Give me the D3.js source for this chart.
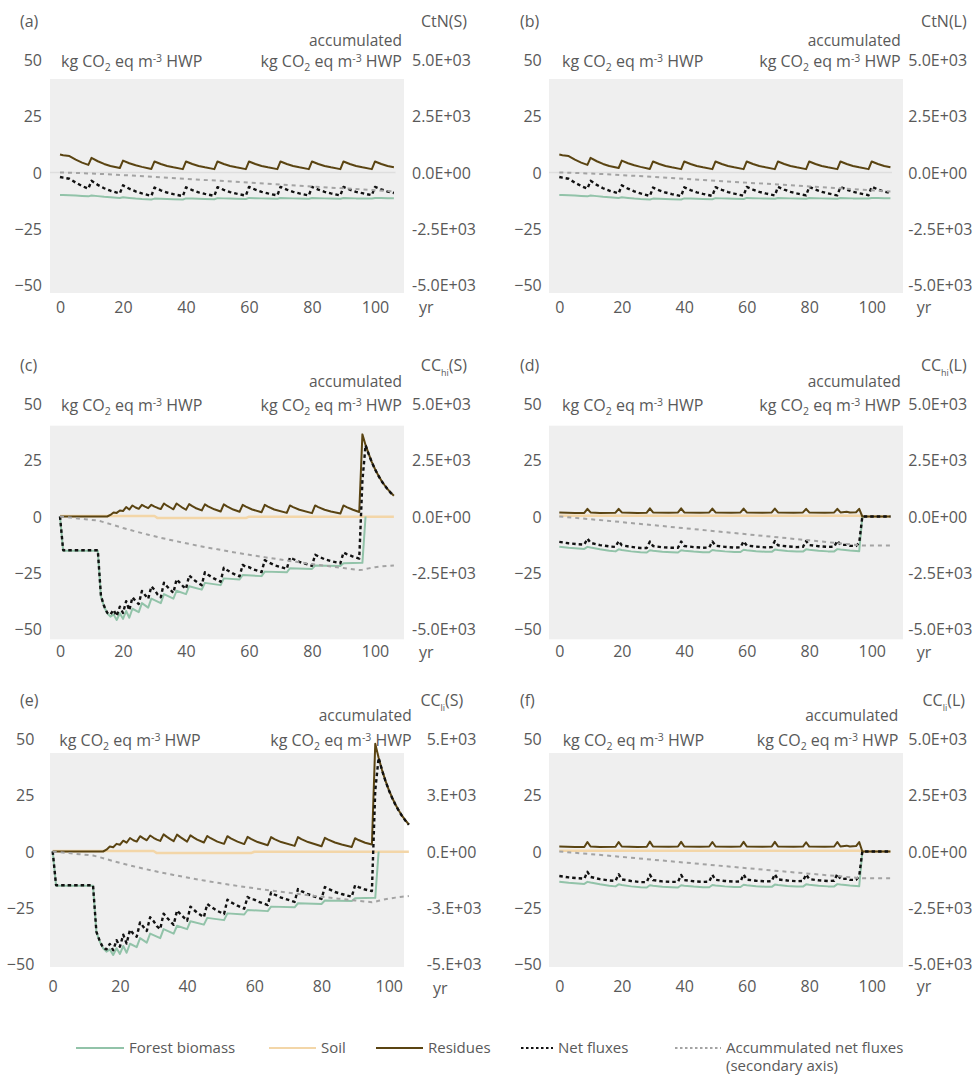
<!DOCTYPE html>
<html><head><meta charset="utf-8">
<script src="https://cdn.jsdelivr.net/npm/d3@7"></script>
<style>
body{margin:0;background:#fff;}
svg text{font-family:"Open Sans",Roboto,sans-serif;fill:#595959;}
</style>
</head><body>
<svg id="chart" width="975" height="1076"></svg>
<script>
// ---------------- DATA (year, value) ----------------
const leftTicks = [50, 25, 0, -25, -50];
const rightTicks = [5000, 2500, 0, -2500, -5000];
const rightTickLabels = ["5.0E+03", "2.5E+03", "0.0E+00", "-2.5E+03", "-5.0E+03"];
const rightTickLabelsE = ["5.E+03", "3.E+03", "0.E+00", "-3.E+03", "-5.E+03"];
const xTicks = [0, 20, 40, 60, 80, 100];
const seriesNames = ["Forest biomass", "Soil", "Residues", "Net fluxes", "Accummulated net fluxes"];

// CtN (S) and (L) look identical
const ctnResidues = [[0,8.0],[1,7.7],[3,7.3],[5,5.7],[7,4.4],[9,3.4],[10,6.5],[12,5.0],[14,3.8],[16,2.9],[19,2.0],[20,5.3],[22,4.1],[24,3.2],[26,2.5],[29,1.6],[30,4.9],[32,3.8],[34,2.9],[36,2.3],[39,1.5],[40,4.9],[42,3.8],[44,2.9],[46,2.3],[49,1.5],[50,4.9],[52,3.8],[54,2.9],[56,2.3],[59,1.5],[60,4.9],[62,3.8],[64,2.9],[66,2.3],[69,1.5],[70,4.9],[72,3.8],[74,2.9],[76,2.3],[79,1.5],[80,4.9],[82,3.8],[84,2.9],[86,2.3],[89,1.5],[90,4.9],[92,3.8],[94,2.9],[96,2.3],[99,1.5],[100,4.9],[102,3.8],[104,2.9],[106,2.3]];
const ctnBiomass = [[0,-10.0],[1,-10.0],[3,-10.1],[5,-10.2],[7,-10.4],[9,-10.6],[10,-10.2],[12,-10.5],[14,-10.8],[16,-11.0],[19,-11.3],[20,-11.0],[22,-11.3],[24,-11.6],[26,-11.8],[29,-12.0],[30,-11.6],[32,-11.7],[34,-11.8],[36,-11.9],[39,-12.0],[40,-11.5],[42,-11.6],[44,-11.7],[46,-11.8],[49,-11.9],[50,-11.4],[52,-11.5],[54,-11.6],[56,-11.7],[59,-11.8],[60,-11.3],[62,-11.4],[64,-11.5],[66,-11.6],[69,-11.7],[70,-11.3],[72,-11.4],[74,-11.5],[76,-11.6],[79,-11.7],[80,-11.3],[82,-11.4],[84,-11.5],[86,-11.6],[89,-11.7],[90,-11.3],[92,-11.4],[94,-11.5],[96,-11.5],[99,-11.6],[100,-11.3],[102,-11.3],[104,-11.4],[106,-11.4]];
const ctnNet = [[0,-2.0],[1,-2.3],[3,-2.8],[5,-4.5],[7,-6.0],[9,-7.2],[10,-3.7],[12,-5.5],[14,-7.0],[16,-8.1],[19,-9.3],[20,-5.7],[22,-7.2],[24,-8.4],[26,-9.3],[29,-10.4],[30,-6.7],[32,-7.9],[34,-8.9],[36,-9.6],[39,-10.5],[40,-6.6],[42,-7.8],[44,-8.8],[46,-9.5],[49,-10.4],[50,-6.5],[52,-7.7],[54,-8.7],[56,-9.4],[59,-10.3],[60,-6.4],[62,-7.6],[64,-8.6],[66,-9.3],[69,-10.2],[70,-6.4],[72,-7.6],[74,-8.6],[76,-9.3],[79,-10.2],[80,-6.4],[82,-7.6],[84,-8.6],[86,-9.3],[89,-10.2],[90,-6.4],[92,-7.6],[94,-8.6],[96,-9.2],[99,-10.1],[100,-6.4],[102,-7.5],[104,-8.5],[106,-9.1]];
const ctnAccum = [[0,0],[5,-18],[10,-45],[15,-78],[20,-115],[25,-155],[30,-195],[40,-280],[50,-365],[60,-450],[70,-535],[80,-620],[90,-705],[100,-790],[106,-840]];

// CC hi (S)
const ccHiSResidues = [[0,0],[15,0],[16,0.7],[17,1.8],[18,1.6],[19,2.7],[20,2.4],[21,4.2],[22,3.1],[23,4.9],[24,4.0],[25,3.4],[26,5.2],[27,4.4],[28,3.7],[29,5.2],[30,4.4],[31,3.8],[32,3.3],[33,5.8],[34,4.8],[35,4.0],[36,3.2],[37,5.8],[38,4.8],[39,3.8],[40,3.0],[41,5.5],[42,4.6],[43,3.8],[45,2.7],[46,5.4],[47,4.5],[49,3.2],[51,2.2],[52,5.4],[53,4.5],[55,3.1],[57,2.1],[58,5.2],[59,4.4],[61,3.1],[64,1.9],[65,5.2],[66,4.4],[68,3.1],[72,1.6],[73,4.9],[74,4.2],[76,3.0],[80,1.5],[81,4.9],[82,4.2],[84,3.0],[86,2.2],[89,1.3],[90,4.9],[91,4.2],[93,3.0],[95,2.0],[96,36.5],[97,31.8],[98,27.8],[99,24.2],[100,21.1],[101,18.4],[102,16.0],[103,14.0],[104,12.2],[105,10.6],[106,9.2]];
const ccHiSBiomass = [[0,0],[1,-15.2],[12,-15.2],[13,-35.5],[14,-40],[15,-43],[16,-44.5],[17,-43.5],[18,-46],[19,-43],[20,-45.5],[21,-42],[22,-45],[23,-41],[25,-42.5],[26,-38.5],[28,-40.5],[29,-36.5],[32,-38.5],[33,-34.5],[36,-36.5],[37,-33],[40,-34.5],[41,-31],[45,-32.5],[46,-29.5],[51,-30.5],[52,-27.5],[57,-28],[58,-26],[64,-26.5],[65,-24.5],[72,-24.8],[73,-23],[80,-23.3],[81,-21.8],[89,-22],[90,-20.8],[96,-20.6],[97,0]];
const ccHiSSoil = [[0,0.2],[30,0.2],[31,-0.7],[59,-0.7],[60,-0.1],[106,-0.1]];
const ccHiSNet = [[0,0],[1,-15.0],[12,-15.0],[13,-35.3],[14,-39.8],[15,-42.8],[16,-43.6],[17,-41.5],[18,-44.2],[19,-40.1],[20,-42.9],[21,-37.6],[22,-41.7],[23,-35.9],[24,-37.6],[25,-38.9],[26,-33.1],[27,-34.9],[28,-36.6],[29,-31.1],[30,-32.6],[31,-34.7],[32,-35.9],[33,-29.4],[34,-31.1],[35,-32.5],[36,-34.0],[37,-27.9],[38,-29.4],[39,-30.9],[40,-32.2],[41,-26.2],[42,-27.5],[43,-28.7],[45,-30.5],[46,-24.8],[47,-25.9],[49,-27.6],[51,-29.0],[52,-22.8],[53,-23.8],[55,-25.4],[57,-26.6],[58,-21.5],[59,-22.4],[60,-22.5],[61,-23.3],[64,-24.7],[65,-19.4],[66,-20.2],[68,-21.6],[72,-23.3],[73,-18.2],[74,-18.9],[76,-20.2],[80,-21.9],[81,-17.0],[82,-17.7],[84,-19.0],[86,-19.8],[89,-20.8],[90,-16.0],[91,-16.7],[93,-17.8],[95,-18.7],[96,15.8],[97,31.7],[98,27.7],[99,24.1],[100,21.0],[101,18.3],[102,15.9],[103,13.9],[104,12.1],[105,10.5],[106,9.1]];
const ccHiSAccum = [[0,0],[4,-60],[8,-120],[12,-180],[13,-215],[14,-255],[16,-340],[18,-425],[20,-510],[24,-665],[28,-810],[32,-945],[36,-1070],[40,-1190],[45,-1330],[50,-1460],[55,-1585],[60,-1700],[65,-1810],[70,-1915],[75,-2015],[80,-2115],[85,-2205],[90,-2290],[95,-2380],[96,-2365],[97,-2335],[98,-2305],[100,-2255],[102,-2220],[104,-2195],[106,-2175]];

// CC hi (L)
const ccHiLResidues = [[0,1.8],[5,1.6],[8,1.6],[9,3.4],[10,1.8],[13,1.6],[18,1.7],[19,3.4],[20,1.8],[25,1.6],[28,1.7],[29,3.6],[30,1.8],[35,1.7],[38,1.8],[39,3.6],[40,1.8],[45,1.7],[48,1.8],[49,3.5],[50,1.8],[55,1.7],[58,1.8],[59,3.5],[60,1.8],[65,1.7],[68,1.8],[69,3.5],[70,1.8],[75,1.7],[78,1.8],[79,3.4],[80,1.8],[85,1.7],[88,1.8],[89,3.4],[90,1.8],[92,2.1],[93,1.8],[95,1.9],[96,3.4],[97,0],[106,0]];
const ccHiLBiomass = [[0,-13.4],[3,-13.9],[6,-14.2],[8,-14.4],[9,-13.5],[10,-13.8],[13,-14.6],[16,-15.2],[18,-15.5],[19,-14.6],[20,-14.9],[23,-15.5],[26,-15.9],[28,-16.0],[29,-15.0],[30,-15.2],[33,-15.7],[36,-15.9],[38,-16.0],[39,-15.0],[40,-15.2],[43,-15.6],[46,-15.9],[48,-15.9],[49,-14.9],[50,-15.1],[53,-15.5],[56,-15.8],[58,-15.8],[59,-14.8],[60,-15.0],[63,-15.4],[66,-15.7],[68,-15.7],[69,-14.7],[70,-14.9],[73,-15.3],[76,-15.6],[78,-15.6],[79,-14.6],[80,-14.8],[83,-15.2],[86,-15.5],[88,-15.5],[89,-14.5],[90,-14.7],[93,-15.1],[95,-15.3],[96,-15.4],[97,0]];
const ccHiLSoil = [[0,0.3],[96,0.3],[97,0],[106,0]];
const ccHiLNet = [[0,-11.3],[3,-11.9],[6,-12.3],[8,-12.5],[9,-9.8],[10,-11.7],[13,-12.7],[16,-13.3],[18,-13.5],[19,-10.9],[20,-12.8],[23,-13.5],[26,-14.0],[28,-14.0],[29,-11.1],[30,-13.1],[33,-13.7],[36,-13.9],[38,-13.9],[39,-11.1],[40,-13.1],[43,-13.6],[46,-13.9],[48,-13.8],[49,-11.1],[50,-13.0],[53,-13.5],[56,-13.8],[58,-13.7],[59,-11.0],[60,-12.9],[63,-13.4],[66,-13.7],[68,-13.6],[69,-10.9],[70,-12.8],[73,-13.3],[76,-13.6],[78,-13.5],[79,-10.9],[80,-12.7],[83,-13.2],[86,-13.5],[88,-13.4],[89,-10.8],[90,-12.6],[92,-12.6],[93,-13.0],[95,-13.1],[96,-11.7],[97,0],[106,0]];
const ccHiLAccum = [[0,0],[10,-120],[20,-250],[30,-385],[40,-520],[50,-655],[60,-790],[70,-925],[80,-1060],[90,-1195],[96,-1275],[97,-1285],[106,-1285]];

// CC li (S)
const ccLiSResidues = [[0,0],[15,0],[16,0.8],[17,2.2],[18,1.9],[19,3.4],[20,3.0],[21,4.8],[22,3.9],[23,6.0],[24,5.0],[25,4.4],[26,6.8],[27,5.8],[28,5.0],[29,7.1],[30,6.1],[31,5.3],[32,4.7],[33,7.6],[34,6.5],[35,5.5],[36,4.6],[37,7.5],[38,6.4],[39,5.4],[40,4.4],[41,7.2],[42,6.2],[43,5.3],[45,4.0],[46,6.9],[47,5.9],[49,4.4],[51,3.4],[52,6.8],[53,5.8],[55,4.4],[57,3.3],[58,6.5],[59,5.6],[61,4.2],[64,2.8],[65,6.4],[66,5.5],[68,4.2],[72,2.5],[73,6.4],[74,5.5],[76,4.2],[80,2.3],[81,6.1],[82,5.3],[84,4.0],[86,3.1],[89,2.0],[90,5.9],[91,5.1],[93,3.9],[95,3.1],[96,47.9],[97,41.7],[98,36.3],[99,31.6],[100,27.5],[101,24.0],[102,20.9],[103,18.2],[104,15.8],[105,13.8],[106,12.0]];
const ccLiSBiomass = [[0,0],[1,-15.2],[12,-15.2],[13,-35.8],[14,-40],[15,-43],[16,-44.5],[17,-43.5],[18,-46],[19,-43],[20,-45.5],[21,-42],[22,-45],[23,-41],[25,-42.5],[26,-38.5],[28,-40.5],[29,-36.5],[32,-38.5],[33,-34.5],[36,-36.5],[37,-33],[40,-34.5],[41,-31],[45,-32.5],[46,-29.5],[51,-30.5],[52,-27.5],[57,-28],[58,-26],[64,-26.5],[65,-24.5],[72,-24.8],[73,-23],[80,-23.3],[81,-21.8],[89,-22],[90,-20.8],[96,-20.6],[97,0]];
const ccLiSSoil = [[0,0.2],[30,0.2],[31,-0.7],[59,-0.7],[60,-0.1],[106,-0.1]];
const ccLiSNet = [[0,0],[1,-15.0],[12,-15.0],[13,-35.6],[14,-39.8],[15,-42.8],[16,-43.5],[17,-41.1],[18,-43.9],[19,-39.4],[20,-42.3],[21,-37.0],[22,-40.9],[23,-34.8],[24,-36.6],[25,-37.9],[26,-31.5],[27,-33.5],[28,-35.3],[29,-29.2],[30,-30.9],[31,-33.2],[32,-34.5],[33,-27.6],[34,-29.4],[35,-31.0],[36,-32.6],[37,-26.2],[38,-27.8],[39,-29.3],[40,-30.8],[41,-24.5],[42,-25.9],[43,-27.2],[45,-29.2],[46,-23.3],[47,-24.5],[49,-26.4],[51,-27.8],[52,-21.4],[53,-22.5],[55,-24.1],[57,-25.4],[58,-20.2],[59,-21.2],[60,-21.4],[61,-22.2],[64,-23.8],[65,-18.2],[66,-19.1],[68,-20.5],[72,-22.4],[73,-16.7],[74,-17.6],[76,-19.0],[80,-21.1],[81,-15.8],[82,-16.6],[84,-18.0],[86,-18.9],[89,-20.1],[90,-15.0],[91,-15.8],[93,-16.9],[95,-17.6],[96,27.2],[97,41.6],[98,36.2],[99,31.5],[100,27.4],[101,23.9],[102,20.8],[103,18.1],[104,15.7],[105,13.7],[106,11.9]];
const ccLiSAccum = [[0,0],[4,-60],[8,-120],[12,-180],[14,-255],[16,-340],[18,-425],[20,-505],[24,-655],[28,-795],[32,-925],[36,-1045],[40,-1155],[45,-1290],[50,-1415],[55,-1530],[60,-1635],[65,-1735],[70,-1830],[75,-1920],[80,-2010],[85,-2095],[90,-2175],[95,-2255],[96,-2230],[97,-2190],[98,-2155],[100,-2095],[102,-2050],[104,-2010],[106,-1980]];

// CC li (L)
const ccLiLResidues = [[0,2.2],[5,2.0],[8,2.0],[9,4.2],[10,2.2],[13,2.0],[18,2.1],[19,4.2],[20,2.2],[25,2.0],[28,2.1],[29,4.4],[30,2.2],[35,2.1],[38,2.2],[39,4.3],[40,2.2],[45,2.1],[48,2.2],[49,4.2],[50,2.2],[55,2.1],[58,2.2],[59,4.3],[60,2.2],[65,2.1],[68,2.2],[69,4.3],[70,2.2],[75,2.1],[78,2.2],[79,4.1],[80,2.2],[85,2.1],[88,2.2],[89,4.2],[90,2.2],[92,2.6],[93,2.2],[95,2.4],[96,4.2],[97,0],[106,0]];
const ccLiLBiomass = [[0,-13.4],[3,-13.9],[6,-14.2],[8,-14.4],[9,-13.5],[10,-13.8],[13,-14.6],[16,-15.2],[18,-15.5],[19,-14.6],[20,-14.9],[23,-15.5],[26,-15.9],[28,-16.0],[29,-15.0],[30,-15.2],[33,-15.7],[36,-15.9],[38,-16.0],[39,-15.0],[40,-15.2],[43,-15.6],[46,-15.9],[48,-15.9],[49,-14.9],[50,-15.1],[53,-15.5],[56,-15.8],[58,-15.8],[59,-14.8],[60,-15.0],[63,-15.4],[66,-15.7],[68,-15.7],[69,-14.7],[70,-14.9],[73,-15.3],[76,-15.6],[78,-15.6],[79,-14.6],[80,-14.8],[83,-15.2],[86,-15.5],[88,-15.5],[89,-14.5],[90,-14.7],[93,-15.1],[95,-15.3],[96,-15.4],[97,0]];
const ccLiLSoil = [[0,0.3],[96,0.3],[97,0],[106,0]];
const ccLiLNet = [[0,-10.9],[3,-11.5],[6,-11.9],[8,-12.1],[9,-9.0],[10,-11.3],[13,-12.3],[16,-12.9],[18,-13.1],[19,-10.1],[20,-12.4],[23,-13.1],[26,-13.6],[28,-13.6],[29,-10.3],[30,-12.7],[33,-13.3],[36,-13.5],[38,-13.5],[39,-10.4],[40,-12.7],[43,-13.2],[46,-13.5],[48,-13.4],[49,-10.4],[50,-12.6],[53,-13.1],[56,-13.4],[58,-13.3],[59,-10.2],[60,-12.5],[63,-13.0],[66,-13.3],[68,-13.2],[69,-10.1],[70,-12.4],[73,-12.9],[76,-13.2],[78,-13.1],[79,-10.2],[80,-12.3],[83,-12.8],[86,-13.1],[88,-13.0],[89,-10.0],[90,-12.2],[92,-12.1],[93,-12.6],[95,-12.6],[96,-10.9],[97,0],[106,0]];
const ccLiLAccum = [[0,0],[10,-115],[20,-240],[30,-365],[40,-490],[50,-615],[60,-740],[70,-865],[80,-985],[90,-1105],[96,-1180],[97,-1190],[106,-1190]];

// ---------------- STYLE / LAYOUT ----------------
const styles = {
  biomass: {color: "#92c3a9", width: 2, dash: null},
  soil: {color: "#f3d6a8", width: 2.5, dash: null},
  residues: {color: "#5a4412", width: 2, dash: null},
  net: {color: "#111111", width: 2.4, dash: "3.5,3"},
  accum: {color: "#a3a3a3", width: 2, dash: "4,4"}
};
const colLayout = [
  {bgL: 50, bgR: 404, x0: 60, x100: 375, leftEnd: 42, rightStart: 412, labelX: 20, titleR: 467, accR: 402, unitL: 61, yrX: 419},
  {bgL: 549, bgR: 903, x0: 559.3, x100: 871.7, leftEnd: 541.7, rightStart: 908.3, labelX: 520, titleR: 966.7, accR: 900.7, unitL: 562, yrX: 916.7}
];
const rowLayout = [
  {y50: 60, yM50: 285, bgT: 79, bgB: 293, labelCY: 21, accCY: 41, unitCY: 61, xCY: 307, yrCY: 307},
  {y50: 404, yM50: 629, bgT: 425.7, bgB: 639.3, labelCY: 365, accCY: 382, unitCY: 405.5, xCY: 651.7, yrCY: 652},
  {y50: 739, yM50: 964, bgT: 753, bgB: 967, labelCY: 700, accCY: 716, unitCY: 740.5, xCY: 986, yrCY: 986}
];

const panels = [
  {label: "(a)", title: ["CtN", "", "(S)"], col: 0, row: 0, zero: true, rl: rightTickLabels,
   s: {biomass: ctnBiomass, residues: ctnResidues, net: ctnNet, accum: ctnAccum}},
  {label: "(b)", title: ["CtN", "", "(L)"], col: 1, row: 0, zero: true, rl: rightTickLabels,
   s: {biomass: ctnBiomass, residues: ctnResidues, net: ctnNet, accum: ctnAccum}},
  {label: "(c)", title: ["CC", "hi", "(S)"], col: 0, row: 1, rl: rightTickLabels,
   s: {soil: ccHiSSoil, biomass: ccHiSBiomass, residues: ccHiSResidues, net: ccHiSNet, accum: ccHiSAccum}},
  {label: "(d)", title: ["CC", "hi", "(L)"], col: 1, row: 1, rl: rightTickLabels,
   s: {soil: ccHiLSoil, biomass: ccHiLBiomass, residues: ccHiLResidues, net: ccHiLNet, accum: ccHiLAccum}},
  {label: "(e)", title: ["CC", "li", "(S)"], col: 0, row: 2, rl: rightTickLabelsE,
   over: {x0: 52.7, x100: 388.7, leftEnd: 34.3, rightStart: 426.7, titleR: 463.3, accR: 411.7, unitL: 59.3, yrX: 433, yrCY: 988},
   s: {soil: ccLiSSoil, biomass: ccLiSBiomass, residues: ccLiSResidues, net: ccLiSNet, accum: ccLiSAccum}},
  {label: "(f)", title: ["CC", "li", "(L)"], col: 1, row: 2, rl: rightTickLabels,
   over: {titleR: 965, accR: 898.3, unitL: 562.7},
   s: {soil: ccLiLSoil, biomass: ccLiLBiomass, residues: ccLiLResidues, net: ccLiLNet, accum: ccLiLAccum}}
];

const svg = d3.select("#chart");
const FS = 16;

function unitText(g, x, y, anchor) {
  const t = g.append("text").attr("x", x).attr("y", y).attr("dy", "0.35em")
    .attr("text-anchor", anchor).style("font-size", FS + "px");
  t.append("tspan").text("kg CO");
  t.append("tspan").text("2").style("font-size", "10.5px").attr("dy", 4);
  t.append("tspan").text(" eq m").attr("dy", -4);
  t.append("tspan").text("-3").style("font-size", "10.5px").attr("dy", -5);
  t.append("tspan").text(" HWP").attr("dy", 5);
}

panels.forEach(p => {
  const L = Object.assign({}, colLayout[p.col], rowLayout[p.row], p.over || {});
  const g = svg.append("g");
  const x = d3.scaleLinear().domain([0, 100]).range([L.x0, L.x100]);
  const y = d3.scaleLinear().domain([-50, 50]).range([L.yM50, L.y50]);
  const yR = d3.scaleLinear().domain([-5000, 5000]).range([L.yM50, L.y50]);

  g.append("rect").attr("x", L.bgL).attr("y", L.bgT)
    .attr("width", L.bgR - L.bgL).attr("height", L.bgB - L.bgT).attr("fill", "#efefef");

  // axes
  const ax1 = g.append("g").attr("transform", `translate(${L.leftEnd},0)`)
    .call(d3.axisLeft(y).tickValues(leftTicks).tickSize(0).tickPadding(0));
  const ax2 = g.append("g").attr("transform", `translate(${L.rightStart},0)`)
    .call(d3.axisRight(yR).tickValues(rightTicks).tickSize(0).tickPadding(0)
      .tickFormat((d, i) => p.rl[i]));
  const ax3 = g.append("g").attr("transform", `translate(0,${L.xCY})`)
    .call(d3.axisBottom(x).tickValues(xTicks).tickSize(0).tickPadding(0));
  [ax1, ax2, ax3].forEach(a => {
    a.select(".domain").remove();
    a.selectAll("text").style("font-size", FS + "px").attr("fill", null);
    a.attr("font-family", null).attr("font-size", null);
  });
  ax1.selectAll("text").attr("dy", "0.35em");
  ax2.selectAll("text").attr("dy", "0.35em");
  ax3.selectAll("text").attr("dy", "0.35em");

  g.append("text").attr("x", L.yrX).attr("y", L.yrCY).attr("dy", "0.35em")
    .style("font-size", FS + "px").text("yr");

  // titles
  g.append("text").attr("x", L.labelX).attr("y", L.labelCY).attr("dy", "0.35em")
    .style("font-size", FS + "px").text(p.label);
  const tt = g.append("text").attr("x", L.titleR).attr("y", L.labelCY).attr("dy", "0.35em")
    .attr("text-anchor", "end").style("font-size", FS + "px");
  tt.append("tspan").text(p.title[0]);
  if (p.title[1]) tt.append("tspan").text(p.title[1]).style("font-size", "9px").attr("dy", 5);
  tt.append("tspan").text(p.title[2]).attr("dy", p.title[1] ? -5 : 0);

  g.append("text").attr("x", L.accR).attr("y", L.accCY).attr("dy", "0.35em")
    .attr("text-anchor", "end").style("font-size", "15.5px").text("accumulated");
  unitText(g, L.unitL, L.unitCY, "start");
  unitText(g, L.accR, L.unitCY, "end");

  if (p.zero) {
    g.append("line").attr("x1", L.bgL).attr("x2", x(106.5)).attr("y1", y(0)).attr("y2", y(0))
      .attr("stroke", "#dedede").attr("stroke-width", 1.5);
  }

  const line = d3.line().x(d => x(d[0])).y(d => y(d[1]));
  const lineR = d3.line().x(d => x(d[0])).y(d => yR(d[1]));
  ["soil", "biomass", "residues", "net", "accum"].forEach(k => {
    if (!p.s[k]) return;
    const st = styles[k];
    g.append("path").datum(p.s[k])
      .attr("d", k === "accum" ? lineR : line)
      .attr("fill", "none").attr("stroke", st.color).attr("stroke-width", st.width)
      .attr("stroke-dasharray", st.dash).attr("stroke-linejoin", "round");
  });
});

// legend
const legendKeys = ["biomass", "soil", "residues", "net", "accum"];
const legendPos = [[76, 124], [269, 316], [376, 423], [521, 553], [675, 721]];
const lg = svg.append("g");
const LY = 1048;
const LFS = 15;
legendKeys.forEach((k, i) => {
  const st = styles[k];
  const [a, b] = legendPos[i];
  lg.append("line").attr("x1", a).attr("x2", b).attr("y1", LY).attr("y2", LY)
    .attr("stroke", st.color).attr("stroke-width", k === "net" || k === "accum" ? 2 : 2.2)
    .attr("stroke-dasharray", k === "net" || k === "accum" ? "2.5,2.5" : null);
  lg.append("text").attr("x", b + 5).attr("y", LY).attr("dy", "0.35em")
    .style("font-size", LFS + "px").text(seriesNames[i]);
});
lg.append("text").attr("x", 726).attr("y", LY + 18).attr("dy", "0.35em")
  .style("font-size", LFS + "px").text("(secondary axis)");
</script>
</body></html>
